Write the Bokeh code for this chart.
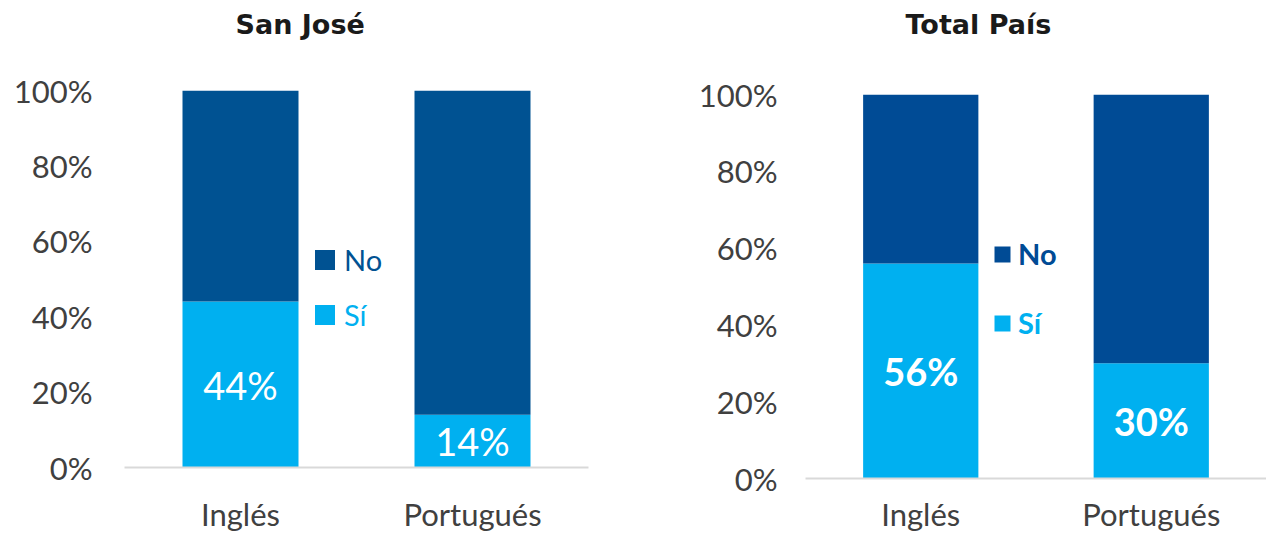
from bokeh.plotting import figure
from bokeh.models import (ColumnDataSource, FactorRange, Range1d, NumeralTickFormatter,
                          FixedTicker, Legend, LegendItem, Title)
from bokeh.layouts import row
from bokeh.embed import file_html
from bokeh.resources import INLINE
from bokeh.core.properties import value

# ---- data ----
categories = ["Inglés", "Portugués"]
series = ["Sí", "No"]
titles = ["San José", "Total País"]
sj_si = [0.44, 0.14]
sj_no = [0.56, 0.86]
tp_si = [0.56, 0.30]
tp_no = [0.44, 0.70]
y_ticks = [0, 0.2, 0.4, 0.6, 0.8, 1.0]

SI_COLOR = "#00B0F0"
TICK_COLOR = "#404040"
FONT = "Lato"


def make_panel(title, si, no, width, height, b_left, b_right, b_top, b_bottom,
               no_color, title_offset, spacer_standoff, y_standoff, x_standoff,
               bold_labels, leg_x, leg_no_y, leg_si_y, glyph, leg_standoff):
    src = ColumnDataSource(dict(
        cat=categories,
        si=si,
        no=no,
        mid=[v / 2 for v in si],
        lbl=[f"{round(v * 100)}%" for v in si],
    ))
    p = figure(x_range=FactorRange(*categories, range_padding=0),
               y_range=Range1d(0, 1.0),
               width=width, height=height, output_backend="svg",
               toolbar_location=None, frame_align=False,
               min_border_left=b_left, min_border_right=b_right,
               min_border_top=b_top, min_border_bottom=b_bottom)
    rs = p.vbar_stack(["si", "no"], x="cat", width=0.5,
                      color=[SI_COLOR, no_color], line_color=None, source=src)
    p.text(x="cat", y="mid", text="lbl", source=src, text_align="center",
           text_baseline="middle", text_color="white", text_font_size="38px",
           text_font=value(FONT), text_font_style="bold" if bold_labels else "normal")

    # main title (outermost), with an empty spacer panel between it and the frame
    p.title.text = title
    p.title.align = "left"
    p.title.offset = title_offset
    p.title.standoff = 9
    p.title.text_font = "DejaVu Sans"
    p.title.text_font_size = "27px"
    p.title.text_font_style = "bold"
    p.title.text_color = "#1A1A1A"
    p.add_layout(Title(text=" ", text_font_size="10px", standoff=spacer_standoff), "above")

    p.outline_line_color = None
    p.xgrid.grid_line_color = None
    p.ygrid.grid_line_color = None

    p.yaxis.ticker = FixedTicker(ticks=y_ticks)
    p.yaxis.formatter = NumeralTickFormatter(format="0%")
    p.yaxis.axis_line_color = None
    p.yaxis.major_tick_line_color = None
    p.yaxis.minor_tick_line_color = None
    p.yaxis.major_tick_out = 0
    p.yaxis.major_label_standoff = y_standoff
    p.yaxis.major_label_text_font = FONT
    p.yaxis.major_label_text_font_size = "31px"
    p.yaxis.major_label_text_color = TICK_COLOR

    p.xaxis.axis_line_color = "#D9D9D9"
    p.xaxis.axis_line_width = 2
    p.xaxis.major_tick_line_color = None
    p.xaxis.major_tick_out = 0
    p.xaxis.major_tick_in = 0
    p.xaxis.major_label_standoff = x_standoff
    p.xaxis.major_label_text_font = FONT
    p.xaxis.major_label_text_font_size = "31px"
    p.xaxis.major_label_text_color = TICK_COLOR

    for name, r, col, ly in [(series[1], rs[1], no_color, leg_no_y),
                             (series[0], rs[0], SI_COLOR, leg_si_y)]:
        leg = Legend(items=[LegendItem(label=name, renderers=[r])],
                     location=(leg_x, ly), padding=0, margin=0,
                     border_line_color=None, background_fill_alpha=0,
                     glyph_width=glyph, glyph_height=glyph,
                     label_standoff=leg_standoff,
                     label_text_font=FONT, label_text_font_size="29px",
                     label_text_color=col,
                     label_text_font_style="bold" if bold_labels else "normal")
        p.add_layout(leg)
    return p


left = make_panel(titles[0], sj_si, sj_no, 640, 536, 124, 52, 90, 69,
                  "#005292", 111, 33, 32, 27, False, 188, 190, 135, 25, 7)
right = make_panel(titles[1], tp_si, tp_no, 626, 536, 165, 0, 94, 58,
                   "#004B95", 100, 37, 28, 16, True, 187, 207, 138, 20, 6)

layout = row(left, right)
open("out.html", "w").write(file_html(layout, INLINE))
